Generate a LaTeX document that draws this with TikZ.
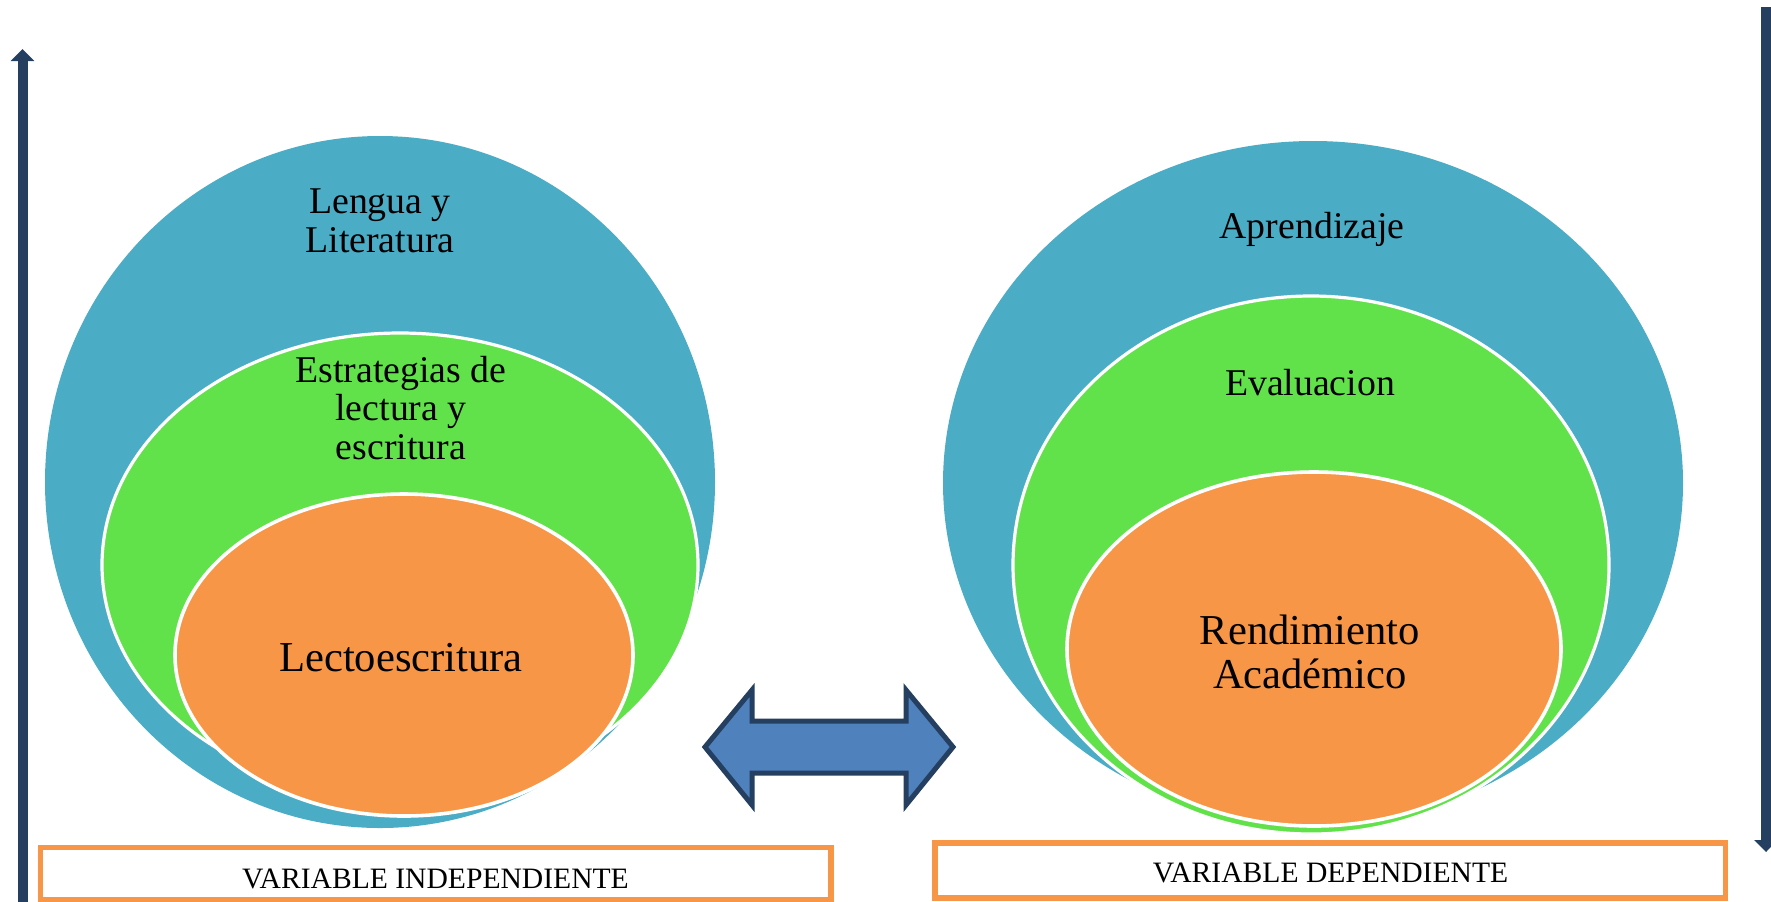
\documentclass[tikz,border=0pt]{standalone}
\usepackage{fontspec}
\setmainfont{Liberation Serif}
\usetikzlibrary{shapes.geometric,arrows.meta}
\definecolor{cblue}{HTML}{4BACC6}
\definecolor{cgreen}{HTML}{62E24A}
\definecolor{corange}{HTML}{F79646}
\definecolor{cnavy}{HTML}{243F60}
\definecolor{carrow}{HTML}{4F81BD}
\tikzset{
  ell/.style={ellipse, inner sep=0pt, outer sep=0pt},
  blueell/.style={ell, fill=cblue},
  greenell/.style={ell, fill=cgreen, draw=white, line width=1.6pt},
  orangeell/.style={ell, fill=corange, draw=white, line width=1.8pt},
  biglabel/.style={align=center, font=\fontsize{18.9}{19.4}\selectfont, inner sep=0pt},
  innerlabel/.style={align=center, font=\fontsize{21.3}{22}\selectfont, inner sep=0pt},
  varbox/.style={draw=corange, line width=2.8pt, fill=white, inner sep=0pt, minimum width=395.25pt},
  boxlabel/.style={font=\fontsize{14.8}{17}\selectfont, inner sep=0pt, anchor=base},
  vertarrow/.style={draw=cnavy, line width=5pt, -{Triangle[width=11.5pt,length=6pt]}},
  blockarrow/.style={fill=carrow, draw=cnavy, line width=2.5pt, line join=miter}
}
\begin{document}
\begin{tikzpicture}[x=0.5pt,y=-0.5pt]
\useasboundingbox (0,0) rectangle (1771,901);
% left group
\node[blueell, minimum width=335pt, minimum height=346pt] (lblue) at (380,482) {};
\node[greenell, minimum width=298pt, minimum height=232pt] (lgreen) at (400,565) {};
\node[orangeell, minimum width=229pt, minimum height=161pt] (lorange) at (404,655) {};
\node[biglabel] (tlengua) at (380,221) {Lengua y\\Literatura};
\node[biglabel] (testr) at (401,408) {Estrategias de\\lectura y\\escritura};
\node[innerlabel] (tlecto) at (401,658) {Lectoescritura};
% right group
\node[blueell, minimum width=370pt, minimum height=342pt] (rblue) at (1313,483) {};
\node[greenell, minimum width=298pt, minimum height=269pt] (rgreen) at (1311,565) {};
\node[orangeell, minimum width=247pt, minimum height=177pt] (rorange) at (1314,649) {};
\node[biglabel] (taprend) at (1312,229) {Aprendizaje};
\node[biglabel] (teval) at (1310,383) {Evaluacion};
\node[innerlabel] (trend) at (1310,652) {Rendimiento\\Académico};
% double block arrow
\draw[blockarrow] (705,747) -- (752,690) -- (752,721) -- (906,721) -- (906,690)
  -- (953,747) -- (906,805) -- (906,773) -- (752,773) -- (752,805) -- cycle;
% vertical arrows
\coordinate (la0) at (22.5,905);
\coordinate (la1) at (22.5,49);
\draw[vertarrow] (la0) -- (la1);
\coordinate (ra0) at (1766,7);
\coordinate (ra1) at (1766,852);
\draw[vertarrow] (ra0) -- (ra1);
% boxes
\node[varbox, minimum height=26pt] (lbox) at (435.75,873.5) {};
\node[boxlabel] (tlbox) at (435.5,888) {VARIABLE INDEPENDIENTE};
\node[varbox, minimum height=27.5pt] (rbox) at (1330.25,870.5) {};
\node[boxlabel] (trbox) at (1330.5,882) {VARIABLE DEPENDIENTE};
\end{tikzpicture}
\end{document}
